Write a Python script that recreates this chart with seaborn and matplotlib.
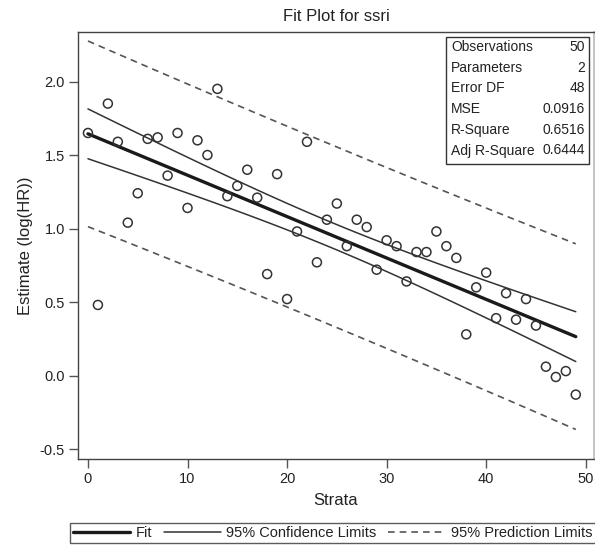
import numpy as np
import pandas as pd
import matplotlib
matplotlib.use("Agg")
import matplotlib.pyplot as plt
import seaborn as sns
from matplotlib.lines import Line2D
from matplotlib.patches import Rectangle

# ---- data ----
strata = list(range(50))
estimate = [1.65, 0.48, 1.85, 1.59, 1.04, 1.24, 1.61, 1.62, 1.36, 1.65,
            1.14, 1.60, 1.50, 1.95, 1.22, 1.29, 1.40, 1.21, 0.69, 1.37,
            0.52, 0.98, 1.59, 0.77, 1.06, 1.17, 0.88, 1.06, 1.01, 0.72,
            0.92, 0.88, 0.64, 0.84, 0.84, 0.98, 0.88, 0.80, 0.28, 0.60,
            0.70, 0.39, 0.56, 0.38, 0.52, 0.34, 0.06, -0.01, 0.03, -0.13]
stat_names = ["Observations", "Parameters", "Error DF", "MSE", "R-Square", "Adj R-Square"]
stat_values = ["50", "2", "48", "0.0916", "0.6516", "0.6444"]
legend_labels = ["Fit", "95% Confidence Limits", "95% Prediction Limits"]
x_ticks = [0, 10, 20, 30, 40, 50]
y_ticks = [-0.5, 0.0, 0.5, 1.0, 1.5, 2.0]
y_ticklabels = ["-0.5", "0.0", "0.5", "1.0", "1.5", "2.0"]
T_CRIT = 2.0106  # t(0.975, 48)

# ---- regression ----
x = np.array(strata, dtype=float)
y = np.array(estimate, dtype=float)
n = len(x)
b1, b0 = np.polyfit(x, y, 1)
resid = y - (b0 + b1 * x)
mse = np.sum(resid ** 2) / (n - 2)
sxx = np.sum((x - x.mean()) ** 2)
fit = b0 + b1 * x
se_mean = np.sqrt(mse * (1 / n + (x - x.mean()) ** 2 / sxx))
se_pred = np.sqrt(mse * (1 + 1 / n + (x - x.mean()) ** 2 / sxx))
df = pd.DataFrame({"Strata": x, "Estimate": y, "fit": fit,
                   "lcl": fit - T_CRIT * se_mean, "ucl": fit + T_CRIT * se_mean,
                   "lpl": fit - T_CRIT * se_pred, "upl": fit + T_CRIT * se_pred})

sns.set_theme(style="white")
plt.rcParams["font.family"] = ["Liberation Sans", "DejaVu Sans"]
txt = "#222222"

W, H = 595, 545
fig = plt.figure(figsize=(W / 100, H / 100), dpi=100)
ax = fig.add_axes([78 / W, 1 - 459 / H, (594 - 78) / W, (459 - 32) / H])

lc = "#333333"
dash = (0, (4, 3))
sns.lineplot(data=df, x="Strata", y="upl", ax=ax, color="#555555", lw=1.2, linestyle=dash)
sns.lineplot(data=df, x="Strata", y="lpl", ax=ax, color="#555555", lw=1.2, linestyle=dash)
sns.lineplot(data=df, x="Strata", y="ucl", ax=ax, color=lc, lw=1.1)
sns.lineplot(data=df, x="Strata", y="lcl", ax=ax, color=lc, lw=1.1)
sns.lineplot(data=df, x="Strata", y="fit", ax=ax, color="#1a1a1a", lw=2.4)
sns.scatterplot(data=df, x="Strata", y="Estimate", ax=ax, marker="o", s=42,
                facecolors="none", edgecolors="#333333", linewidth=1.1, zorder=5)

ax.set_xlim(-1.0, 50.83)
ax.set_ylim(-0.568, 2.337)
ax.set_xticks(x_ticks)
ax.set_yticks(y_ticks)
ax.set_yticklabels(y_ticklabels)
ax.tick_params(axis="both", direction="out", length=6.5, width=1, color="#555555",
               labelsize=10.5, labelcolor=txt, left=True, bottom=True, pad=3)
for side in ["left", "bottom", "top"]:
    ax.spines[side].set_color("#444444")
    ax.spines[side].set_linewidth(1.0)
ax.spines["right"].set_color("#bbbbbb")
ax.set_xlabel("Strata", fontsize=12, color=txt, labelpad=5)
ax.set_ylabel("Estimate (log(HR))", fontsize=12, color=txt, labelpad=5)
ax.set_title("Fit Plot for ssri", fontsize=12, color=txt, pad=8)

# ---- statistics box ----
bx0, bx1, by0, by1 = 446, 589, 37, 164
fig.patches.append(Rectangle((bx0 / W, 1 - by1 / H), (bx1 - bx0) / W, (by1 - by0) / H,
                             transform=fig.transFigure, fill=True, facecolor="white",
                             edgecolor="#333333", lw=1.0, zorder=10))
for i, (nm, val) in enumerate(zip(stat_names, stat_values)):
    yy = 1 - (47 + i * 20.7) / H
    fig.text(451 / W, yy, nm, ha="left", va="center", fontsize=10, color=txt, zorder=11)
    fig.text(585 / W, yy, val, ha="right", va="center", fontsize=10, color=txt, zorder=11)

# ---- legend ----
handles = [Line2D([], [], color="#1a1a1a", lw=2.4),
           Line2D([], [], color=lc, lw=1.1),
           Line2D([], [], color="#555555", lw=1.2, linestyle=dash)]
leg = fig.legend(handles, legend_labels, loc="lower left",
                 bbox_to_anchor=(70 / W, 1 - 543 / H), ncol=3, frameon=True,
                 fancybox=False, edgecolor="#333333", fontsize=10.5,
                 handlelength=3.9, handletextpad=0.4, columnspacing=0.8,
                 borderpad=0.2, borderaxespad=0)
leg.get_frame().set_linewidth(1.0)
for t in leg.get_texts():
    t.set_color(txt)

fig.savefig("out.png", dpi=100)
